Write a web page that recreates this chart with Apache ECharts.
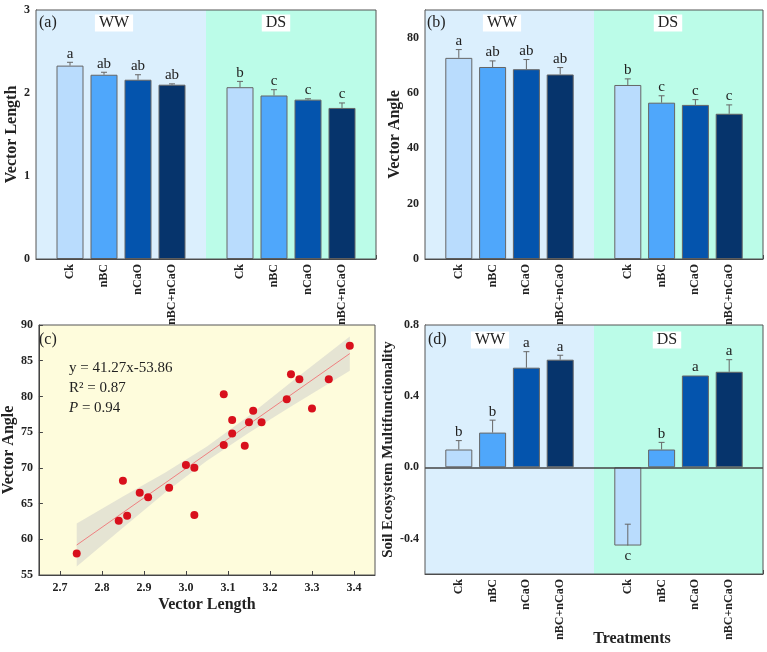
<!DOCTYPE html>
<html>
<head>
<meta charset="utf-8">
<script src="https://cdn.jsdelivr.net/npm/echarts@6/dist/echarts.min.js"></script>
<style>
  html, body { margin: 0; padding: 0; background: #fff; }
  #main { width: 767px; height: 652px; }
</style>
</head>
<body>
<div id="main"></div>
<script>
// treatments, same order in both water regimes
const treatments = ['Ck', 'nBC', 'nCaO', 'nBC+nCaO']

// (a) vector length
const lenWW = [2.33, 2.22, 2.16, 2.10]
const lenWWErr = [0.04, 0.03, 0.06, 0.01]
const lenWWSig = ['a', 'ab', 'ab', 'ab']
const lenDS = [2.07, 1.97, 1.92, 1.82]
const lenDSErr = [0.07, 0.07, 0.01, 0.06]
const lenDSSig = ['b', 'c', 'c', 'c']

// (b) vector angle
const angWW = [72.7, 69.4, 68.6, 66.7]
const angWWErr = [3.0, 2.2, 3.5, 2.5]
const angWWSig = ['a', 'ab', 'ab', 'ab']
const angDS = [62.9, 56.5, 55.7, 52.5]
const angDSErr = [2.2, 2.5, 1.9, 3.2]
const angDSSig = ['b', 'c', 'c', 'c']

// (c) vector length vs angle
const scatterLen = [2.74, 2.84, 2.85, 2.86, 2.89, 2.91, 2.96, 3.00, 3.02, 3.02, 3.09, 3.09,
  3.11, 3.11, 3.14, 3.15, 3.16, 3.18, 3.24, 3.25, 3.27, 3.30, 3.34, 3.39]
const scatterAng = [58.0, 62.6, 68.2, 63.3, 66.5, 65.9, 67.2, 70.4, 70.0, 63.4, 80.3, 73.2,
  74.8, 76.7, 73.1, 76.4, 78.0, 76.4, 79.6, 83.1, 82.4, 78.3, 82.4, 87.1]
const fitX = [2.74, 3.39]
const fitY = [59.2, 86.0]
const bandX = [2.74, 2.85, 2.95, 3.05, 3.15, 3.25, 3.39]
const bandUpper = [62.2, 66.0, 69.3, 73.0, 77.3, 82.0, 88.4]
const bandLower = [56.2, 61.6, 66.5, 71.0, 74.9, 78.6, 83.6]

// (d) soil ecosystem multifunctionality
const smfWW = [0.10, 0.195, 0.56, 0.605]
const smfWWErr = [0.05, 0.07, 0.09, 0.025]
const smfWWSig = ['b', 'b', 'a', 'a']
const smfDS = [-0.44, 0.10, 0.516, 0.537]
const smfDSErr = [0.12, 0.04, 0, 0.068]
const smfDSSig = ['c', 'b', 'a', 'a']

const angTicks = [0, 20, 40, 60, 80]
const smfTicks = [-0.4, 0, 0.4, 0.8]
const lenTicks = [2.7, 2.8, 2.9, 3.0, 3.1, 3.2, 3.3, 3.4]

const barColors = ['#b9dcfd', '#4fa7fb', '#0454ad', '#06346c']
const wwColor = '#dbeffd'
const dsColor = '#bbfce8'
const serif = '"Liberation Serif", "Times New Roman", serif'
const axisColor = '#444'

// 11 slots: edge, 4 WW bars, gap, 4 DS bars, edge
const slotLabels = [''].concat(treatments, [''], treatments, [''])
const wwPos = [1, 2, 3, 4]
const dsPos = [6, 7, 8, 9]

var chart = echarts.init(document.getElementById('main'))

function slotData(ww, ds) {
  var out = ['-']
  ww.forEach((v, i) => out.push({ value: v, itemStyle: { color: barColors[i] } }))
  out.push('-')
  ds.forEach((v, i) => out.push({ value: v, itemStyle: { color: barColors[i] } }))
  out.push('-')
  return out
}

function catAxis(gi, onZero) {
  return {
    type: 'category', gridIndex: gi, data: slotLabels, boundaryGap: false,
    axisLine: { onZero: onZero, lineStyle: { color: axisColor } },
    axisTick: { inside: true, length: 4, interval: 0, lineStyle: { color: axisColor } },
    axisLabel: { interval: 0, rotate: 90, margin: 5, fontFamily: serif, fontWeight: 'bold', fontSize: 12, color: '#222' },
    splitLine: { show: false },
  }
}

function valAxis(gi, extra) {
  return Object.assign({
    type: 'value', gridIndex: gi,
    nameLocation: 'middle',
    nameTextStyle: { fontFamily: serif, fontWeight: 'bold', fontSize: 16, color: '#222' },
    axisLine: { show: true, lineStyle: { color: axisColor } },
    axisTick: { show: true, inside: true, length: 4, lineStyle: { color: axisColor } },
    axisLabel: { fontFamily: serif, fontWeight: 'bold', fontSize: 12, color: '#222', margin: 6 },
    splitLine: { show: false },
  }, extra)
}

function barSeries(gi, ww, ds, zeroLine) {
  var s = {
    type: 'bar', xAxisIndex: gi, yAxisIndex: gi, barWidth: 27,
    data: slotData(ww, ds),
    itemStyle: { borderColor: '#666', borderWidth: 1 },
    markArea: {
      silent: true,
      data: [
        [{ xAxis: 0, itemStyle: { color: wwColor } }, { xAxis: 5 }],
        [{ xAxis: 5, itemStyle: { color: dsColor } }, { xAxis: 10 }],
      ],
    },
  }
  if (zeroLine) {
    s.markLine = {
      silent: true, symbol: 'none', label: { show: false },
      lineStyle: { color: axisColor, width: 1.5, type: 'solid' },
      data: [{ yAxis: 0 }],
    }
  }
  return s
}

// error bars + significance letters
function errSeries(gi, pos, vals, errs, sigs) {
  return {
    type: 'custom', xAxisIndex: gi, yAxisIndex: gi, z: 5, clip: false, silent: true,
    data: pos.map((p, i) => [p, vals[i], errs[i]]),
    renderItem: function (params, api) {
      var i = params.dataIndex
      var x = api.value(0), v = api.value(1), e = api.value(2)
      var p0 = api.coord([x, v])
      var p1 = api.coord([x, v + e])
      var kids = []
      var ls = { stroke: '#666', lineWidth: 1 }
      if (e > 0) {
        kids.push({ type: 'line', shape: { x1: p0[0], y1: p0[1], x2: p1[0], y2: p1[1] }, style: ls })
        kids.push({ type: 'line', shape: { x1: p1[0] - 3, y1: p1[1], x2: p1[0] + 3, y2: p1[1] }, style: ls })
      }
      var ty, va
      if (v >= 0) { ty = Math.min(p0[1], p1[1]) - 1; va = 'bottom' } else { ty = p0[1] + 3; va = 'top' }
      kids.push({
        type: 'text',
        style: {
          text: sigs[i], x: p0[0], y: ty, font: '15px ' + serif, fill: '#222',
          align: 'center', verticalAlign: va, textAlign: 'center', textVerticalAlign: va,
        },
      })
      return { type: 'group', children: kids }
    },
  }
}

function txt(x, y, text, opts) {
  return {
    type: 'text', x: x, y: y, silent: true, z: 20,
    style: Object.assign({
      text: text, font: '16px ' + serif, fill: '#222',
      align: 'center', verticalAlign: 'middle', textAlign: 'center', textVerticalAlign: 'middle',
    }, opts || {}),
  }
}

function tag(x, y, text) {
  return txt(x, y, text, { backgroundColor: '#fff', padding: [1, 4, 0, 4] })
}

var option = {
  animation: false,
  grid: [
    { left: 36, top: 10, width: 340, height: 249, show: true, z: 10, backgroundColor: 'transparent', borderColor: '#555' },
    { left: 425, top: 10, width: 338, height: 249, show: true, z: 10, backgroundColor: 'transparent', borderColor: '#555' },
    { left: 36, top: 325, width: 339, height: 250, show: true, backgroundColor: '#fefcdc', borderColor: '#555' },
    { left: 425, top: 325, width: 338, height: 249, show: true, z: 10, backgroundColor: 'transparent', borderColor: '#555' },
  ],
  xAxis: [
    catAxis(0, true),
    catAxis(1, true),
    valAxis(2, {
      min: 2.65, max: 3.45, name: 'Vector Length', nameGap: 22,
      axisLabel: { fontFamily: serif, fontWeight: 'bold', fontSize: 12, color: '#222', margin: 7, customValues: lenTicks, formatter: (v) => v.toFixed(1) },
      axisTick: { show: true, inside: true, length: 4, lineStyle: { color: axisColor }, customValues: lenTicks },
    }),
    catAxis(3, false),
  ],
  yAxis: [
    valAxis(0, { min: 0, max: 3, interval: 1, name: 'Vector Length', nameGap: 11 }),
    valAxis(1, {
      min: 0, max: 90, name: 'Vector Angle', nameGap: 18,
      axisLabel: { fontFamily: serif, fontWeight: 'bold', fontSize: 12, color: '#222', margin: 6, customValues: angTicks },
      axisTick: { show: true, inside: true, length: 4, lineStyle: { color: axisColor }, customValues: angTicks },
    }),
    valAxis(2, { min: 55, max: 90, interval: 5, name: 'Vector Angle', nameGap: 17 }),
    valAxis(3, {
      min: -0.6, max: 0.8, name: 'Soil Ecosystem Multifunctionality', nameGap: 26,
      nameTextStyle: { fontFamily: serif, fontWeight: 'bold', fontSize: 15, color: '#222' },
      axisLabel: { fontFamily: serif, fontWeight: 'bold', fontSize: 12, color: '#222', margin: 6, customValues: smfTicks, formatter: (v) => v.toFixed(1) },
      axisTick: { show: true, inside: true, length: 4, lineStyle: { color: axisColor }, customValues: smfTicks },
    }),
  ],
  series: [
    barSeries(0, lenWW, lenDS),
    errSeries(0, wwPos, lenWW, lenWWErr, lenWWSig),
    errSeries(0, dsPos, lenDS, lenDSErr, lenDSSig),

    barSeries(1, angWW, angDS),
    errSeries(1, wwPos, angWW, angWWErr, angWWSig),
    errSeries(1, dsPos, angDS, angDSErr, angDSSig),

    {
      type: 'custom', xAxisIndex: 2, yAxisIndex: 2, silent: true, z: 1,
      data: [[bandX[0], bandUpper[0]]],
      renderItem: function (params, api) {
        var pts = bandX.map((x, i) => api.coord([x, bandUpper[i]]))
        for (var i = bandX.length - 1; i >= 0; i--) pts.push(api.coord([bandX[i], bandLower[i]]))
        return { type: 'polygon', shape: { points: pts }, style: { fill: 'rgba(200,200,200,0.45)' } }
      },
    },
    {
      type: 'line', xAxisIndex: 2, yAxisIndex: 2, silent: true, symbol: 'none', z: 2,
      data: fitX.map((x, i) => [x, fitY[i]]),
      lineStyle: { color: '#f08080', width: 1 },
    },
    {
      type: 'scatter', xAxisIndex: 2, yAxisIndex: 2, symbolSize: 8, z: 3,
      data: scatterLen.map((x, i) => [x, scatterAng[i]]),
      itemStyle: { color: '#d8101c', opacity: 1 },
    },

    barSeries(3, smfWW, smfDS, true),
    errSeries(3, wwPos, smfWW, smfWWErr, smfWWSig),
    errSeries(3, dsPos, smfDS, smfDSErr, smfDSSig),
  ],
  graphic: [
    txt(39, 23, '(a)', { align: 'left', textAlign: 'left' }),
    tag(114, 23, 'WW'),
    tag(276, 23, 'DS'),
    txt(427, 23, '(b)', { align: 'left', textAlign: 'left' }),
    tag(502, 23, 'WW'),
    tag(668, 23, 'DS'),
    txt(39, 340, '(c)', { align: 'left', textAlign: 'left' }),
    txt(69, 368, 'y = 41.27x-53.86', { align: 'left', textAlign: 'left', font: '15px ' + serif }),
    txt(69, 388, 'R² = 0.87', { align: 'left', textAlign: 'left', font: '15px ' + serif }),
    txt(69, 408, '{i|P} = 0.94', {
      align: 'left', textAlign: 'left', font: '15px ' + serif,
      rich: { i: { fontStyle: 'italic', fontFamily: serif, fontSize: 15 } },
    }),
    txt(428, 340, '(d)', { align: 'left', textAlign: 'left' }),
    tag(490, 340, 'WW'),
    tag(667, 340, 'DS'),
    txt(632, 639, 'Treatments', { font: 'bold 16px ' + serif }),
  ],
}

chart.setOption(option)
</script>
</body>
</html>
